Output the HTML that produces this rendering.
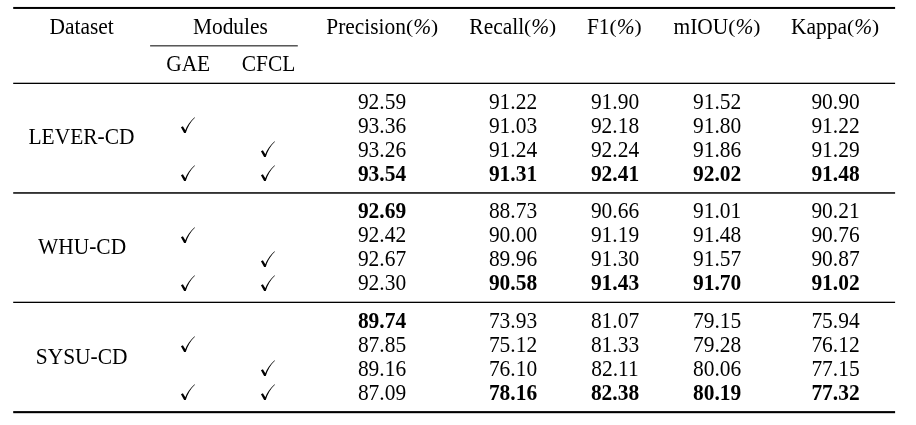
<!DOCTYPE html>
<html><head><meta charset="utf-8"><title>Table</title>
<style>
html,body{margin:0;padding:0;background:#fff;}
body{width:916px;height:425px;position:relative;overflow:hidden;font-family:"Liberation Serif",serif;color:#000;}
.t{position:absolute;transform:translateX(-50%) scaleY(1.035);transform-origin:50% 19.24px;white-space:nowrap;font-family:"Liberation Serif",serif;font-size:21.45px;line-height:24px;height:24px;color:#000;}
.b{font-weight:bold;}
.t i{font-style:italic;}
.pp{display:inline-block;transform:scaleY(0.86);transform-origin:50% 13.89px;}
#w{position:absolute;left:0;top:0;width:916px;height:425px;will-change:transform;transform:translateZ(0);}
.r{position:absolute;}
.ck{position:absolute;overflow:visible;}
.ck path{fill:#000;}
</style></head><body>
<div id="w">
<svg class="r" style="left:0;top:0" width="916" height="425" viewBox="0 0 916 425"><rect x="13.2" y="6.95" width="881.90" height="2.0" fill="#000"/></svg>
<svg class="r" style="left:0;top:0" width="916" height="425" viewBox="0 0 916 425"><rect x="150.1" y="45.35" width="147.70" height="1.0" fill="#000"/></svg>
<svg class="r" style="left:0;top:0" width="916" height="425" viewBox="0 0 916 425"><rect x="13.2" y="82.7" width="881.90" height="1.3" fill="#000"/></svg>
<svg class="r" style="left:0;top:0" width="916" height="425" viewBox="0 0 916 425"><rect x="13.2" y="192.2" width="881.90" height="1.5" fill="#000"/></svg>
<svg class="r" style="left:0;top:0" width="916" height="425" viewBox="0 0 916 425"><rect x="13.2" y="301.7" width="881.90" height="1.3" fill="#000"/></svg>
<svg class="r" style="left:0;top:0" width="916" height="425" viewBox="0 0 916 425"><rect x="13.2" y="411.1" width="881.90" height="2.1" fill="#000"/></svg>
<span class="t" style="left:81.70px;top:14.76px;">Dataset</span>
<span class="t" style="left:230.40px;top:14.76px;">Modules</span>
<span class="t" style="left:188.20px;top:51.76px;">GAE</span>
<span class="t" style="left:268.60px;top:51.76px;">CFCL</span>
<span class="t" style="left:382.20px;top:14.76px;">Precision<span class="pp">(</span><i>%</i><span class="pp">)</span></span>
<span class="t" style="left:512.80px;top:14.76px;">Recall<span class="pp">(</span><i>%</i><span class="pp">)</span></span>
<span class="t" style="left:614.30px;top:14.76px;">F1<span class="pp">(</span><i>%</i><span class="pp">)</span></span>
<span class="t" style="left:717.00px;top:14.76px;">mIOU<span class="pp">(</span><i>%</i><span class="pp">)</span></span>
<span class="t" style="left:835.10px;top:14.76px;">Kappa<span class="pp">(</span><i>%</i><span class="pp">)</span></span>
<span class="t" style="left:81.50px;top:125.31px;">LEVER-CD</span>
<span class="t" style="left:382.00px;top:89.86px;">92.59</span>
<span class="t" style="left:513.00px;top:89.86px;">91.22</span>
<span class="t" style="left:615.00px;top:89.86px;">91.90</span>
<span class="t" style="left:717.20px;top:89.86px;">91.52</span>
<span class="t" style="left:835.50px;top:89.86px;">90.90</span>
<span class="t" style="left:382.00px;top:113.76px;">93.36</span>
<span class="t" style="left:513.00px;top:113.76px;">91.03</span>
<span class="t" style="left:615.00px;top:113.76px;">92.18</span>
<span class="t" style="left:717.20px;top:113.76px;">91.80</span>
<span class="t" style="left:835.50px;top:113.76px;">91.22</span>
<svg class="ck" style="left:180.10px;top:116.30px" width="17" height="19" viewBox="0 0 17 19"><path d="M0.95 11.35 L2.9 10.3 L5.3 14.3 C6.9 10.3 9.9 5.3 14.6 1.35 L14.9 1.75 C10.4 5.9 7.6 11.0 5.75 16.9 L4.1 16.9 Z"/></svg>
<span class="t" style="left:382.00px;top:137.66px;">93.26</span>
<span class="t" style="left:513.00px;top:137.66px;">91.24</span>
<span class="t" style="left:615.00px;top:137.66px;">92.24</span>
<span class="t" style="left:717.20px;top:137.66px;">91.86</span>
<span class="t" style="left:835.50px;top:137.66px;">91.29</span>
<svg class="ck" style="left:260.40px;top:140.20px" width="17" height="19" viewBox="0 0 17 19"><path d="M0.95 11.35 L2.9 10.3 L5.3 14.3 C6.9 10.3 9.9 5.3 14.6 1.35 L14.9 1.75 C10.4 5.9 7.6 11.0 5.75 16.9 L4.1 16.9 Z"/></svg>
<span class="t b" style="left:382.00px;top:161.56px;">93.54</span>
<span class="t b" style="left:513.00px;top:161.56px;">91.31</span>
<span class="t b" style="left:615.00px;top:161.56px;">92.41</span>
<span class="t b" style="left:717.20px;top:161.56px;">92.02</span>
<span class="t b" style="left:835.50px;top:161.56px;">91.48</span>
<svg class="ck" style="left:180.10px;top:164.10px" width="17" height="19" viewBox="0 0 17 19"><path d="M0.95 11.35 L2.9 10.3 L5.3 14.3 C6.9 10.3 9.9 5.3 14.6 1.35 L14.9 1.75 C10.4 5.9 7.6 11.0 5.75 16.9 L4.1 16.9 Z"/></svg>
<svg class="ck" style="left:260.40px;top:164.10px" width="17" height="19" viewBox="0 0 17 19"><path d="M0.95 11.35 L2.9 10.3 L5.3 14.3 C6.9 10.3 9.9 5.3 14.6 1.35 L14.9 1.75 C10.4 5.9 7.6 11.0 5.75 16.9 L4.1 16.9 Z"/></svg>
<span class="t" style="left:82.10px;top:235.21px;">WHU-CD</span>
<span class="t b" style="left:382.00px;top:199.36px;">92.69</span>
<span class="t" style="left:513.00px;top:199.36px;">88.73</span>
<span class="t" style="left:615.00px;top:199.36px;">90.66</span>
<span class="t" style="left:717.20px;top:199.36px;">91.01</span>
<span class="t" style="left:835.50px;top:199.36px;">90.21</span>
<span class="t" style="left:382.00px;top:223.26px;">92.42</span>
<span class="t" style="left:513.00px;top:223.26px;">90.00</span>
<span class="t" style="left:615.00px;top:223.26px;">91.19</span>
<span class="t" style="left:717.20px;top:223.26px;">91.48</span>
<span class="t" style="left:835.50px;top:223.26px;">90.76</span>
<svg class="ck" style="left:180.10px;top:225.80px" width="17" height="19" viewBox="0 0 17 19"><path d="M0.95 11.35 L2.9 10.3 L5.3 14.3 C6.9 10.3 9.9 5.3 14.6 1.35 L14.9 1.75 C10.4 5.9 7.6 11.0 5.75 16.9 L4.1 16.9 Z"/></svg>
<span class="t" style="left:382.00px;top:247.16px;">92.67</span>
<span class="t" style="left:513.00px;top:247.16px;">89.96</span>
<span class="t" style="left:615.00px;top:247.16px;">91.30</span>
<span class="t" style="left:717.20px;top:247.16px;">91.57</span>
<span class="t" style="left:835.50px;top:247.16px;">90.87</span>
<svg class="ck" style="left:260.40px;top:249.70px" width="17" height="19" viewBox="0 0 17 19"><path d="M0.95 11.35 L2.9 10.3 L5.3 14.3 C6.9 10.3 9.9 5.3 14.6 1.35 L14.9 1.75 C10.4 5.9 7.6 11.0 5.75 16.9 L4.1 16.9 Z"/></svg>
<span class="t" style="left:382.00px;top:271.06px;">92.30</span>
<span class="t b" style="left:513.00px;top:271.06px;">90.58</span>
<span class="t b" style="left:615.00px;top:271.06px;">91.43</span>
<span class="t b" style="left:717.20px;top:271.06px;">91.70</span>
<span class="t b" style="left:835.50px;top:271.06px;">91.02</span>
<svg class="ck" style="left:180.10px;top:273.60px" width="17" height="19" viewBox="0 0 17 19"><path d="M0.95 11.35 L2.9 10.3 L5.3 14.3 C6.9 10.3 9.9 5.3 14.6 1.35 L14.9 1.75 C10.4 5.9 7.6 11.0 5.75 16.9 L4.1 16.9 Z"/></svg>
<svg class="ck" style="left:260.40px;top:273.60px" width="17" height="19" viewBox="0 0 17 19"><path d="M0.95 11.35 L2.9 10.3 L5.3 14.3 C6.9 10.3 9.9 5.3 14.6 1.35 L14.9 1.75 C10.4 5.9 7.6 11.0 5.75 16.9 L4.1 16.9 Z"/></svg>
<span class="t" style="left:81.60px;top:344.51px;">SYSU-CD</span>
<span class="t b" style="left:382.00px;top:308.86px;">89.74</span>
<span class="t" style="left:513.00px;top:308.86px;">73.93</span>
<span class="t" style="left:615.00px;top:308.86px;">81.07</span>
<span class="t" style="left:717.20px;top:308.86px;">79.15</span>
<span class="t" style="left:835.50px;top:308.86px;">75.94</span>
<span class="t" style="left:382.00px;top:332.76px;">87.85</span>
<span class="t" style="left:513.00px;top:332.76px;">75.12</span>
<span class="t" style="left:615.00px;top:332.76px;">81.33</span>
<span class="t" style="left:717.20px;top:332.76px;">79.28</span>
<span class="t" style="left:835.50px;top:332.76px;">76.12</span>
<svg class="ck" style="left:180.10px;top:335.30px" width="17" height="19" viewBox="0 0 17 19"><path d="M0.95 11.35 L2.9 10.3 L5.3 14.3 C6.9 10.3 9.9 5.3 14.6 1.35 L14.9 1.75 C10.4 5.9 7.6 11.0 5.75 16.9 L4.1 16.9 Z"/></svg>
<span class="t" style="left:382.00px;top:356.66px;">89.16</span>
<span class="t" style="left:513.00px;top:356.66px;">76.10</span>
<span class="t" style="left:615.00px;top:356.66px;">82.11</span>
<span class="t" style="left:717.20px;top:356.66px;">80.06</span>
<span class="t" style="left:835.50px;top:356.66px;">77.15</span>
<svg class="ck" style="left:260.40px;top:359.20px" width="17" height="19" viewBox="0 0 17 19"><path d="M0.95 11.35 L2.9 10.3 L5.3 14.3 C6.9 10.3 9.9 5.3 14.6 1.35 L14.9 1.75 C10.4 5.9 7.6 11.0 5.75 16.9 L4.1 16.9 Z"/></svg>
<span class="t" style="left:382.00px;top:380.56px;">87.09</span>
<span class="t b" style="left:513.00px;top:380.56px;">78.16</span>
<span class="t b" style="left:615.00px;top:380.56px;">82.38</span>
<span class="t b" style="left:717.20px;top:380.56px;">80.19</span>
<span class="t b" style="left:835.50px;top:380.56px;">77.32</span>
<svg class="ck" style="left:180.10px;top:383.10px" width="17" height="19" viewBox="0 0 17 19"><path d="M0.95 11.35 L2.9 10.3 L5.3 14.3 C6.9 10.3 9.9 5.3 14.6 1.35 L14.9 1.75 C10.4 5.9 7.6 11.0 5.75 16.9 L4.1 16.9 Z"/></svg>
<svg class="ck" style="left:260.40px;top:383.10px" width="17" height="19" viewBox="0 0 17 19"><path d="M0.95 11.35 L2.9 10.3 L5.3 14.3 C6.9 10.3 9.9 5.3 14.6 1.35 L14.9 1.75 C10.4 5.9 7.6 11.0 5.75 16.9 L4.1 16.9 Z"/></svg>
</div>
</body></html>
